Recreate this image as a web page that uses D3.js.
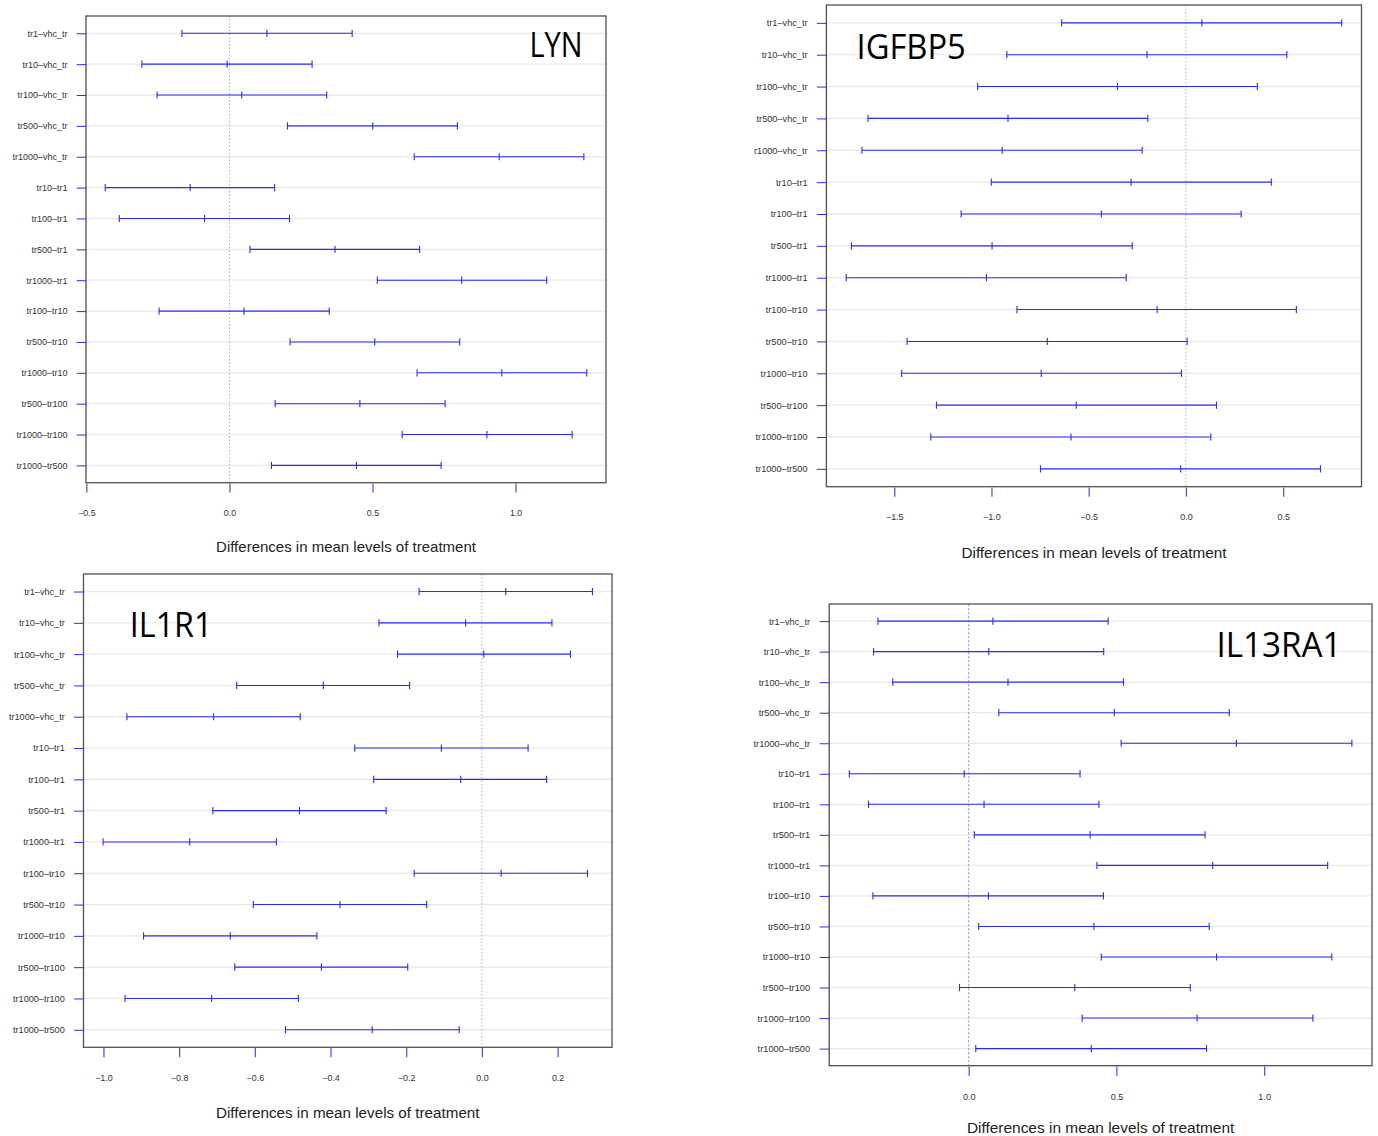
<!DOCTYPE html>
<html>
<head>
<meta charset="utf-8">
<script src="https://cdn.jsdelivr.net/npm/d3@7"></script>
<style>
  html, body { margin: 0; padding: 0; background: #ffffff; }
  svg { display: block; }
</style>
</head>
<body>
<svg id="chart" width="1378" height="1136"></svg>
<script>
// ---------------- DATA ----------------
const comparisons = ["tr1–vhc_tr", "tr10–vhc_tr", "tr100–vhc_tr", "tr500–vhc_tr", "tr1000–vhc_tr",
  "tr10–tr1", "tr100–tr1", "tr500–tr1", "tr1000–tr1", "tr100–tr10", "tr500–tr10", "tr1000–tr10",
  "tr500–tr100", "tr1000–tr100", "tr1000–tr500"];
// the IGFBP5 panel is cropped at its left edge in the reference, cutting the first letter of one label
const igfbp5Labels = ["tr1–vhc_tr", "tr10–vhc_tr", "tr100–vhc_tr", "tr500–vhc_tr", "r1000–vhc_tr",
  "tr10–tr1", "tr100–tr1", "tr500–tr1", "tr1000–tr1", "tr100–tr10", "tr500–tr10", "tr1000–tr10",
  "tr500–tr100", "tr1000–tr100", "tr1000–tr500"];

const geneNames = ["LYN", "IGFBP5", "IL1R1", "IL13RA1"];
const xTitle = "Differences in mean levels of treatment";

const lynDiff = [0.131, -0.008, 0.043, 0.501, 0.943, -0.137, -0.087, 0.369, 0.812, 0.051, 0.508, 0.952, 0.456, 0.900, 0.444];
const lynLwr  = [-0.166, -0.306, -0.253, 0.203, 0.646, -0.434, -0.385, 0.072, 0.517, -0.246, 0.212, 0.656, 0.160, 0.604, 0.147];
const lynUpr  = [0.429, 0.289, 0.340, 0.797, 1.239, 0.158, 0.210, 0.665, 1.109, 0.349, 0.805, 1.249, 0.754, 1.198, 0.740];

const igfbp5Diff = [0.082, -0.200, -0.352, -0.915, -0.945, -0.282, -0.435, -0.997, -1.026, -0.148, -0.713, -0.744, -0.564, -0.591, -0.027];
const igfbp5Lwr  = [-0.639, -0.921, -1.071, -1.635, -1.666, -1.001, -1.156, -1.720, -1.747, -0.869, -1.434, -1.462, -1.283, -1.312, -0.748];
const igfbp5Upr  = [0.801, 0.519, 0.367, -0.196, -0.225, 0.439, 0.284, -0.276, -0.307, 0.568, 0.006, -0.023, 0.157, 0.128, 0.692];

const il1r1Diff = [0.063, -0.043, 0.005, -0.419, -0.709, -0.107, -0.056, -0.482, -0.772, 0.051, -0.375, -0.665, -0.424, -0.714, -0.290];
const il1r1Lwr  = [-0.166, -0.272, -0.223, -0.648, -0.938, -0.336, -0.286, -0.711, -1.001, -0.179, -0.604, -0.894, -0.653, -0.943, -0.519];
const il1r1Upr  = [0.292, 0.185, 0.234, -0.191, -0.480, 0.122, 0.171, -0.253, -0.543, 0.279, -0.146, -0.436, -0.196, -0.485, -0.060];

const il13ra1Diff = [0.082, 0.068, 0.133, 0.493, 0.906, -0.015, 0.052, 0.411, 0.826, 0.067, 0.424, 0.839, 0.359, 0.773, 0.415];
const il13ra1Lwr  = [-0.307, -0.322, -0.257, 0.102, 0.516, -0.404, -0.339, 0.019, 0.434, -0.324, 0.034, 0.449, -0.031, 0.384, 0.024];
const il13ra1Upr  = [0.472, 0.457, 0.524, 0.882, 1.297, 0.377, 0.441, 0.800, 1.215, 0.456, 0.814, 1.229, 0.750, 1.165, 0.805];

const lynTicks = [-0.5, 0.0, 0.5, 1.0];
const lynTickLabels = ["−0.5", "0.0", "0.5", "1.0"];
const igfbp5Ticks = [-1.5, -1.0, -0.5, 0.0, 0.5];
const igfbp5TickLabels = ["−1.5", "−1.0", "−0.5", "0.0", "0.5"];
const il1r1Ticks = [-1.0, -0.8, -0.6, -0.4, -0.2, 0.0, 0.2];
const il1r1TickLabels = ["−1.0", "−0.8", "−0.6", "−0.4", "−0.2", "0.0", "0.2"];
const il13ra1Ticks = [0.0, 0.5, 1.0];
const il13ra1TickLabels = ["0.0", "0.5", "1.0"];

// ---------------- LAYOUT (positions/styles) ----------------
const panels = [
  { gene: geneNames[0], labels: comparisons, diff: lynDiff, lwr: lynLwr, upr: lynUpr,
    ticks: lynTicks, tickLabels: lynTickLabels,
    box: { x0: 86, x1: 606, y0: 16, y1: 482.7 }, k: 1.0, titleY: 552,
    geneBox: { x0: 529.5, x1: 582.5, base: 56.7 },
    zero: { stroke: "#a8a8ff", dash: "1.5,2", width: 1 } },
  { gene: geneNames[1], labels: igfbp5Labels, diff: igfbp5Diff, lwr: igfbp5Lwr, upr: igfbp5Upr,
    ticks: igfbp5Ticks, tickLabels: igfbp5TickLabels,
    box: { x0: 826.4, x1: 1361.5, y0: 5, y1: 486.7 }, k: 1.02, titleY: 557.5,
    geneBox: { x0: 856.5, x1: 965.8, base: 59.3 },
    zero: { stroke: "#a8a8ff", dash: "1.5,2", width: 1 } },
  { gene: geneNames[2], labels: comparisons, diff: il1r1Diff, lwr: il1r1Lwr, upr: il1r1Upr,
    ticks: il1r1Ticks, tickLabels: il1r1TickLabels,
    box: { x0: 83.5, x1: 612, y0: 574, y1: 1047.3 }, k: 1.015, titleY: 1117.5,
    geneBox: { x0: 129.8, x1: 212.5, base: 636.7 },
    zero: { stroke: "#a8a8ff", dash: "1.5,2", width: 1 } },
  { gene: geneNames[3], labels: comparisons, diff: il13ra1Diff, lwr: il13ra1Lwr, upr: il13ra1Upr,
    ticks: il13ra1Ticks, tickLabels: il13ra1TickLabels,
    box: { x0: 829.2, x1: 1372, y0: 604, y1: 1065.7 }, k: 1.03, titleY: 1133,
    geneBox: { x0: 1216.5, x1: 1341.4, base: 657.3 },
    zero: { stroke: "#7070ff", dash: "2.5,1.5", width: 0.7 } }
];

const svg = d3.select("#chart");
svg.append("rect").attr("width", 1378).attr("height", 1136).attr("fill", "#ffffff");

const BLUE = "#2a2aff";
const LABEL_FONT = "'Liberation Sans', Arial, Helvetica, sans-serif";

panels.forEach(p => {
  const n = p.labels.length;
  const b = p.box;
  const k = p.k;

  // R-style range extension of 4%
  const lo = d3.min(p.lwr), hi = d3.max(p.upr);
  const ext = (hi - lo) * 0.04;
  const x = d3.scaleLinear().domain([lo - ext, hi + ext]).range([b.x0, b.x1]);
  const yExt = (n - 1) * 0.04;
  const y = d3.scaleLinear().domain([1 - yExt, n + yExt]).range([b.y1, b.y0]);
  const rowVal = i => n - i;

  const g = svg.append("g");

  // horizontal gridlines
  g.selectAll("line.grid").data(p.labels).join("line")
    .attr("class", "grid")
    .attr("x1", b.x0).attr("x2", b.x1)
    .attr("y1", (d, i) => y(rowVal(i))).attr("y2", (d, i) => y(rowVal(i)))
    .attr("stroke", "#e9e9e9").attr("stroke-width", 1.3);

  // zero reference line
  g.append("line")
    .attr("x1", x(0)).attr("x2", x(0))
    .attr("y1", b.y0).attr("y2", b.y1)
    .attr("stroke", p.zero.stroke).attr("stroke-width", p.zero.width)
    .attr("stroke-dasharray", p.zero.dash);

  // confidence intervals
  const rows = p.labels.map((lab, i) => ({ lab, i, d: p.diff[i], l: p.lwr[i], u: p.upr[i] }));
  const ci = g.selectAll("g.ci").data(rows).join("g").attr("class", "ci");
  ci.append("line")
    .attr("x1", r => x(r.l)).attr("x2", r => x(r.u))
    .attr("y1", r => y(rowVal(r.i))).attr("y2", r => y(rowVal(r.i)))
    .attr("stroke", BLUE).attr("stroke-width", 1.1);
  ["l", "d", "u"].forEach(key => {
    ci.append("line")
      .attr("x1", r => x(r[key])).attr("x2", r => x(r[key]))
      .attr("y1", r => y(rowVal(r.i)) - 3.6).attr("y2", r => y(rowVal(r.i)) + 3.6)
      .attr("stroke", BLUE).attr("stroke-width", 1.1);
  });

  // box
  g.append("rect")
    .attr("x", b.x0).attr("y", b.y0)
    .attr("width", b.x1 - b.x0).attr("height", b.y1 - b.y0)
    .attr("fill", "none").attr("stroke", "#505050").attr("stroke-width", 1.3);

  // x axis
  const xAxis = d3.axisBottom(x)
    .tickValues(p.ticks)
    .tickFormat((d, i) => p.tickLabels[i])
    .tickSize(9 * k).tickSizeOuter(0).tickPadding(17 * k);
  const xa = g.append("g").attr("transform", `translate(0,${b.y1 + 0.8})`).call(xAxis);
  xa.select(".domain").remove();
  xa.selectAll(".tick line").attr("stroke", "#4848ff").attr("stroke-width", 1.2);
  xa.selectAll(".tick text")
    .attr("fill", "#333").attr("font-family", LABEL_FONT).attr("font-size", 8.8 * k);

  // y axis
  const yAxis = d3.axisLeft(y)
    .tickValues(p.labels.map((l, i) => rowVal(i)))
    .tickFormat(v => p.labels[n - v])
    .tickSize(9.3 * k).tickSizeOuter(0).tickPadding(9.2 * k);
  const ya = g.append("g").attr("transform", `translate(${b.x0},0)`).call(yAxis);
  ya.select(".domain").remove();
  ya.selectAll(".tick line").attr("stroke", BLUE).attr("stroke-width", 1);
  ya.selectAll(".tick text")
    .attr("fill", "#333").attr("font-family", LABEL_FONT).attr("font-size", 9 * k);

  // x axis title
  g.append("text")
    .attr("x", (b.x0 + b.x1) / 2).attr("y", p.titleY)
    .attr("text-anchor", "middle")
    .attr("font-family", LABEL_FONT).attr("font-size", 15 * k)
    .attr("fill", "#222")
    .text(xTitle);

  // gene name
  const gb = p.geneBox;
  g.append("text")
    .attr("x", gb.x0).attr("y", gb.base)
    .attr("font-family", "'Open Sans', 'Noto Sans', sans-serif").attr("font-size", 34)
    .attr("fill", "#000")
    .attr("textLength", gb.x1 - gb.x0).attr("lengthAdjust", "spacingAndGlyphs")
    .text(p.gene);
});
</script>
</body>
</html>
